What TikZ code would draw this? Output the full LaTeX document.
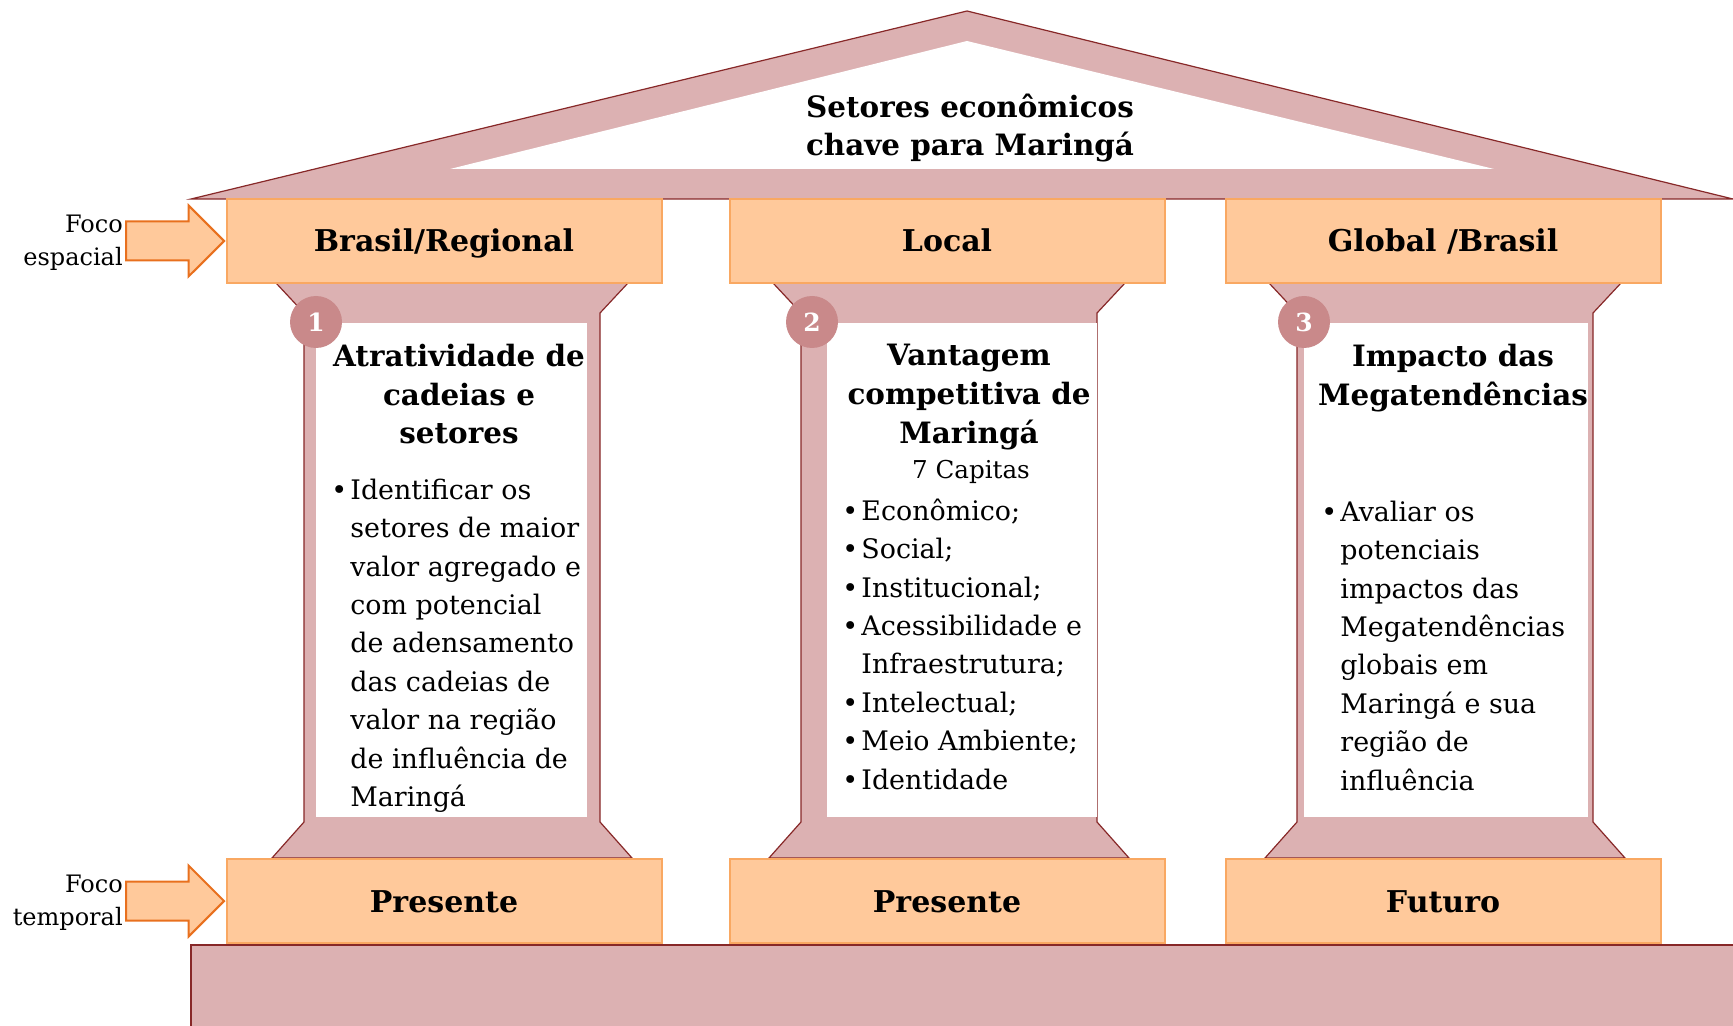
\documentclass[tikz,border=0pt]{standalone}
\usepackage{fontspec}
\setmainfont{DejaVu Serif}
\usepackage{tikz}
\usetikzlibrary{shapes.arrows}

\definecolor{pillar}{RGB}{220,177,178}
\definecolor{pillarline}{RGB}{135,40,40}
\definecolor{badgecol}{RGB}{201,137,138}
\definecolor{peach}{RGB}{255,201,155}
\definecolor{peachline}{RGB}{249,168,98}
\definecolor{arrowline}{RGB}{232,112,30}

\newcommand{\blt}{\makebox[9.5pt][l]{\textbullet}}
\newcommand{\hng}{\hspace*{9.5pt}}

\begin{document}
\begin{tikzpicture}[x=0.5pt,y=-0.5pt,
        pillarfill/.style = {fill=pillar, draw=pillarline, line width=0.6pt},
        focobox/.style = {rectangle,
            fill=peach, draw=peachline, line width=1pt,
            minimum width=217.5pt, minimum height=42pt,
            text height=11pt, text depth=0pt,
            font=\bfseries\fontsize{15}{16}\selectfont},
        badge/.style = {circle, fill=badgecol, minimum size=26pt, inner sep=0pt,
            text=white, font=\bfseries\fontsize{12.5}{12.5}\selectfont},
        coltitle/.style = {anchor=north, inner sep=0pt,
            font=\bfseries\fontsize{14.7}{19.3}\selectfont},
        colbody/.style = {anchor=north west, inner sep=0pt,
            font=\fontsize{13.45}{19.2}\selectfont},
        blockarrow/.style = {single arrow, single arrow head extend=8pt,
            minimum height=49pt, inner xsep=0pt, inner ysep=9.25pt,
            fill=peach, draw=arrowline, line width=1pt},
        focolabel/.style = {anchor=east, align=right, inner sep=1pt,
            font=\fontsize{12}{16.5}\selectfont}]

    \useasboundingbox (0,0) rectangle (1733,1026);

    % Roof
    \filldraw[pillarfill] (967,11) -- (1733,199) -- (191,199) -- cycle;
    \fill[white] (967,41) -- (1494,169) -- (450,169) -- cycle;
    \node[inner sep=0pt, anchor=north, align=center,
        font=\bfseries\fontsize{14.7}{18.8}\selectfont] (roof) at (970,94)
        {Setores econômicos\\chave para Maringá};

    % Foundation
    \filldraw[pillarfill] (191,945) rectangle (1740,1030);

    % Pillars
    \foreach \cx/\pl/\pr/\bx [count=\i] in {452/316/587/316, 949/827/1097/812, 1445/1304/1588/1304} {
        \filldraw[pillarfill] ({\cx-176},283) -- ({\cx+176},283) -- ({\cx+148},313)
            -- ({\cx+148},822) -- ({\cx+180},858) -- ({\cx-180},858)
            -- ({\cx-148},822) -- ({\cx-148},313) -- cycle;
        \fill[white] (\pl,323) rectangle (\pr,817);
        \node[badge] (num\i) at (\bx,322) {\i};
    }

    % Spatial focus
    \node[focobox] (espA) at (444,241) {Brasil/Regional};
    \node[focobox] (espB) at (947,241) {Local};
    \node[focobox] (espC) at (1443,241) {Global /Brasil};

    % Temporal focus
    \node[focobox] (tempA) at (444,901) {Presente};
    \node[focobox] (tempB) at (947,901) {Presente};
    \node[focobox] (tempC) at (1443,901) {Futuro};

    % Arrows
    \node[blockarrow, anchor=tip] (arrEsp) at (espA.west) {};
    \node[blockarrow, anchor=tip] (arrTemp) at (tempA.west) {};
    \node[focolabel] (lblEsp) at ([yshift=-1pt]arrEsp.tail) {Foco\\espacial};
    \node[focolabel] (lblTemp) at ([yshift=-1pt]arrTemp.tail) {Foco\\temporal};

    % Pillar 1
    \node[coltitle, align=center] (titA) at (459,344)
        {Atratividade de\\cadeias e\\setores};
    \node[colbody] (txtA) at (331,472) {\begin{tabular}{@{}l@{}}
        \blt Identificar os\\
        \hng setores de maior\\
        \hng valor agregado e\\
        \hng com potencial\\
        \hng de adensamento\\
        \hng das cadeias de\\
        \hng valor na região\\
        \hng de influência de\\
        \hng Maringá
    \end{tabular}};

    % Pillar 2
    \node[coltitle, align=center] (titB) at (969,344)
        {Vantagem\\competitiva de\\Maringá};
    \node[inner sep=0pt, font=\fontsize{12.3}{13}\selectfont] (capB) at (971,472) {7 Capitas};
    \node[colbody] (txtB) at (842,493) {\begin{tabular}{@{}l@{}}
        \blt Econômico;\\
        \blt Social;\\
        \blt Institucional;\\
        \blt Acessibilidade e\\
        \hng Infraestrutura;\\
        \blt Intelectual;\\
        \blt Meio Ambiente;\\
        \blt Identidade
    \end{tabular}};

    % Pillar 3
    \node[coltitle, align=center] (titC) at (1453,344)
        {Impacto das\\Megatendências};
    \node[colbody] (txtC) at (1321,494) {\begin{tabular}{@{}l@{}}
        \blt Avaliar os\\
        \hng potenciais\\
        \hng impactos das\\
        \hng Megatendências\\
        \hng globais em\\
        \hng Maringá e sua\\
        \hng região de\\
        \hng influência
    \end{tabular}};

\end{tikzpicture}
\end{document}
